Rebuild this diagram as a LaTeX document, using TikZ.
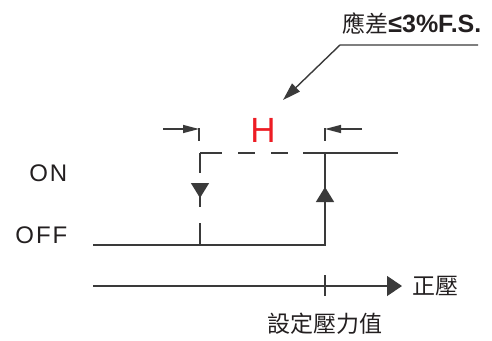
\documentclass[tikz,border=0pt]{standalone}
\usepackage{fontspec}
\setmainfont{Liberation Sans}
\newfontfamily\cjkfont{Noto Sans CJK TC}
\newfontfamily\statefont[LetterSpace=8]{Liberation Sans}
\usepackage{tikz}
\usetikzlibrary{positioning,calc,arrows.meta}
\definecolor{linegray}{HTML}{3A3A3A}
\definecolor{textgray}{HTML}{231F20}
\definecolor{hred}{HTML}{ED1C24}

\begin{document}
\begin{tikzpicture}[x=1pt, y=-1pt, line width=1.4pt, draw=linegray, text=textgray,
  dimtip/.style = {-{Triangle[length=16pt, width=8pt]}},
  bigtip/.style = {-{Triangle[length=15pt, width=18pt]}},
  leadtip/.style = {-{Triangle[length=18pt, width=11pt]}},
  state/.style = {anchor=east, inner sep=0pt, font=\statefont\fontsize{24}{24}\selectfont},
  cjk/.style = {inner sep=0pt, font=\cjkfont\fontsize{23}{23}\selectfont}]

\useasboundingbox (0,0) rectangle (492,340);

% switching points
\coordinate (offL) at (93,245);
\coordinate (offR) at (325,245);
\coordinate (onR) at (325,153);
\coordinate (onE) at (398,153);
\coordinate (dropT) at (200,153);
\coordinate (dropB) at (200,245);
\coordinate (dashE) at (303,153);

% labels
\node[state] (on) at (68,173) {ON};
\node[state] (off) at (68,235) {OFF};
\node[inner sep=0pt, text=hred, font=\fontsize{35}{35}\selectfont] (H) at (263,130) {H};
\node[inner sep=0pt, anchor=east] (note) at (482,24)
  {{\cjkfont\fontsize{23}{23}\selectfont 應差}{\bfseries\fontsize{25}{25}\selectfont ≤3\%F.S.}};
\node[cjk, anchor=west] (axislbl) at (412,286) {正壓};
\node[cjk] (setlbl) at (325,324) {設定壓力值};

% output curve
\draw (offL) -- (offR) -- (onR);
\draw (dashE) -- (onE);
\draw[dash pattern=on 22pt off 16pt on 17pt off 16pt on 17pt off 20pt] (dropT) -- (dashE);
\draw[dash pattern=on 20pt off 10pt on 24pt off 16pt on 30pt] (dropT) -- (dropB);
\draw[bigtip] (200,183) -- (200,198);
\draw[bigtip] (325,202) -- (325,187);

% hysteresis width
\coordinate (extL) at (199,128);
\coordinate (extR) at (325,128);
\draw (extL) -- ++(0,13);
\draw (extR) -- ++(0,13);
\draw[dimtip] (163,129) -- (extL |- 0,129);
\draw[dimtip] (362,129) -- (extR |- 0,129);

% leader to note
\coordinate (kink) at (340,45);
\draw[leadtip] (478,45) -- (kink) -- (283,100);

% pressure axis
\coordinate (axL) at (93,286);
\coordinate (axE) at (402,286);
\draw[-{Triangle[length=15pt, width=20pt]}] (axL) -- (axE);
\draw (325,275) -- (325,296);
\end{tikzpicture}
\end{document}
